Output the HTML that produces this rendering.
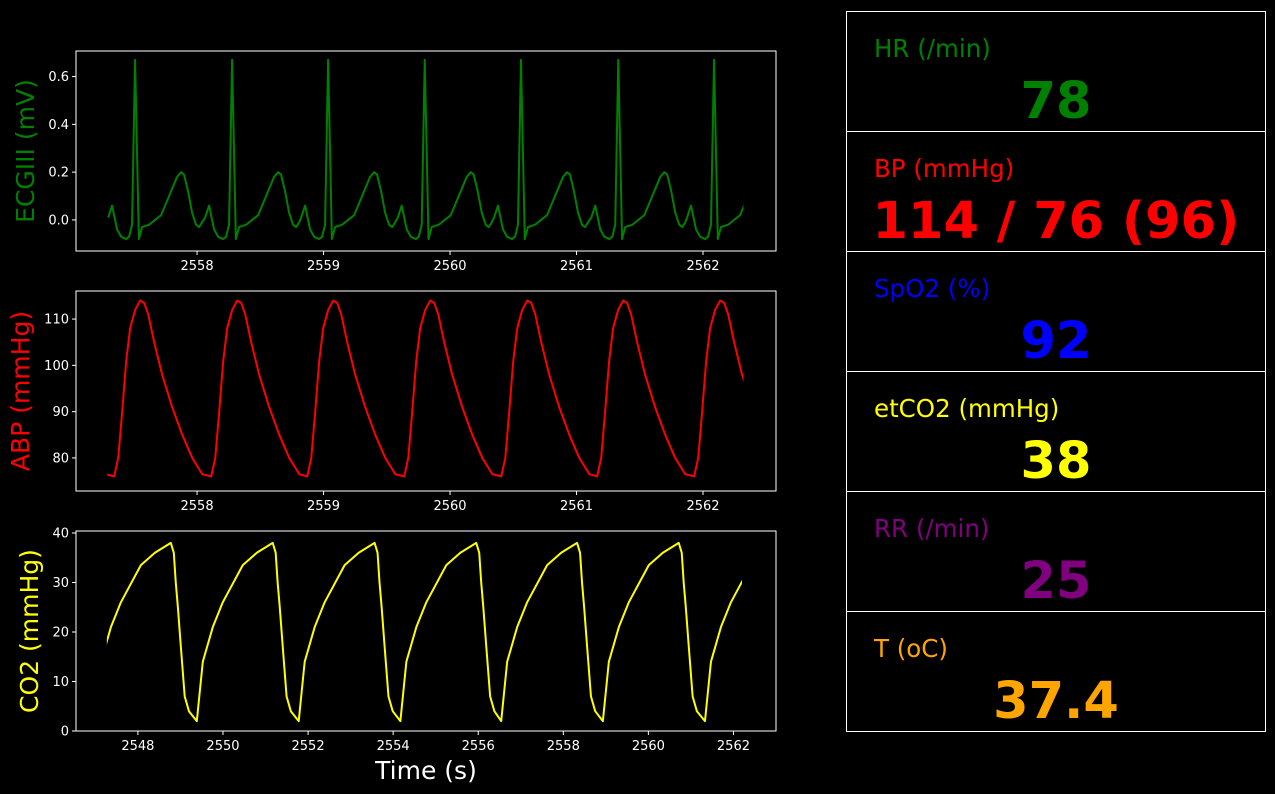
<!DOCTYPE html>
<html><head><meta charset="utf-8"><style>
html,body{margin:0;padding:0;background:#000;}
svg{display:block;font-family:"DejaVu Sans","Liberation Sans",sans-serif;}
</style></head><body>
<svg id="s" width="1275" height="794" viewBox="0 0 1275 794">
<rect width="1275" height="794" fill="#000"/>
<g id="panels"></g>
<g id="vitals"></g>
</svg>
<script>
// ECG data
const ecgBeatTimes = [2557.51, 2558.277, 2559.036, 2559.80, 2560.561, 2561.33, 2562.087];
const ecgTemplateOffsets = [-0.213, -0.182, -0.142, -0.111, -0.071, -0.047, -0.024, 0, 0.03, 0.055, 0.111, 0.158, 0.206, 0.269, 0.332, 0.364, 0.387, 0.419, 0.451, 0.482, 0.506, 0.53];
const ecgTemplateValues = [0.01, 0.06, -0.04, -0.07, -0.08, -0.07, -0.02, 0.67, -0.08, -0.03, -0.02, 0.0, 0.02, 0.10, 0.18, 0.20, 0.19, 0.12, 0.03, -0.02, -0.03, -0.01];
const ecgRange = [2557.29, 2562.32];
const ecgXTicks = [2558, 2559, 2560, 2561, 2562];
const ecgYTicks = [0.0, 0.2, 0.4, 0.6];
// ABP data
const abpFootTimes = [2556.58, 2557.345, 2558.112, 2558.871, 2559.638, 2560.405, 2561.163, 2561.93];
const abpTemplateOffsets = [0, 0.032, 0.063, 0.095, 0.126, 0.166, 0.206, 0.237, 0.269, 0.316, 0.379, 0.458, 0.538, 0.617, 0.696];
const abpTemplateValues = [76, 80, 90, 101, 108, 112, 114, 113.5, 111, 105, 98, 91, 85, 80, 76.5];
const abpRange = [2557.29, 2562.32];
const abpXTicks = [2558, 2559, 2560, 2561, 2562];
const abpYTicks = [80, 90, 100, 110];
// CO2 data
const co2MinTimes = [2546.99, 2549.385, 2551.78, 2554.17, 2556.54, 2558.93, 2561.33];
const co2TemplateOffsets = [0, 0.141, 0.376, 0.61, 1.08, 1.41, 1.784, 1.854, 1.90, 1.95, 2.02, 2.11, 2.21];
const co2TemplateValues = [2, 14, 21, 26, 33.5, 36, 38, 36, 30, 25, 17, 7, 4];
const co2Range = [2547.27, 2562.2];
const co2XTicks = [2548, 2550, 2552, 2554, 2556, 2558, 2560, 2562];
const co2YTicks = [0, 10, 20, 30, 40];
// Vitals
const vitalLabels = ["HR (/min)", "BP  (mmHg)", "SpO2 (%)", "etCO2 (mmHg)", "RR (/min)", "T (oC)"];
const vitalValues = ["78", "114 / 76 (96)", "92", "38", "25", "37.4"];
const vitalColors = ["#008000", "#ff0000", "#0000ff", "#ffff00", "#800080", "#ffa500"];

const NS = "http://www.w3.org/2000/svg";
function mk(tag, attrs, parent){const e=document.createElementNS(NS,tag);for(const k in attrs)e.setAttribute(k,attrs[k]);parent.appendChild(e);return e;}

function panel(cfg){
  const g = mk('g',{},document.getElementById('panels'));
  
  
  const L=76,R=776,T=cfg.top,B=cfg.top+200;
  const xs=t=>L+(t-cfg.xmin)/(cfg.xmax-cfg.xmin)*(R-L);
  const ys=v=>B-(v-cfg.ymin)/(cfg.ymax-cfg.ymin)*(B-T);
  const pts=[];
  cfg.starts.forEach(s=>{cfg.offs.forEach((o,i)=>{pts.push([s+o,cfg.vals[i]]);});});
  pts.sort((a,b)=>a[0]-b[0]);
  const cid='clip-'+cfg.name;
  const cp=mk('clipPath',{id:cid},g);
  mk('rect',{x:xs(cfg.range[0]),y:T-50,width:xs(cfg.range[1])-xs(cfg.range[0]),height:300},cp);
  const line=mk('polyline',{points:pts.map(p=>xs(p[0]).toFixed(2)+','+ys(p[1]).toFixed(2)).join(' '),fill:'none',stroke:cfg.color,'stroke-width':2,'stroke-linejoin':'round','clip-path':'url(#'+cid+')'},g);
  
  
  const fr=mk('rect',{x:L,y:T,width:R-L,height:200,fill:'none',stroke:'#fff','stroke-width':1},g);
  
  
  cfg.xt.forEach(t=>{
    const x=xs(t);
    mk('line',{x1:x,x2:x,y1:B,y2:B+4,stroke:'#fff'},g);
    const tx=mk('text',{x:x,y:B+19,fill:'#fff','font-size':13,'text-anchor':'middle'},g);
    tx.textContent=t;
    
    
  });
  cfg.yt.forEach(v=>{
    const y=ys(v);
    mk('line',{x1:L,x2:L-4,y1:y,y2:y,stroke:'#fff'},g);
    const tx=mk('text',{x:L-7,y:y+4.5,fill:'#fff','font-size':13,'text-anchor':'end'},g);
    tx.textContent=cfg.fmt(v);
    
    
  });
  const yl=mk('text',{x:0,y:0,fill:cfg.color,'font-size':25,'text-anchor':'middle',transform:'translate('+cfg.labelX+','+(T+100)+') rotate(-90)'},g);
  yl.textContent=cfg.label;
  
  
}
panel({name:'ecg',top:51,xmin:2557.043,xmax:2562.577,ymin:-0.13,ymax:0.707,starts:ecgBeatTimes,offs:ecgTemplateOffsets,vals:ecgTemplateValues,range:ecgRange,xt:ecgXTicks,yt:ecgYTicks,color:'#008000',label:'ECGIII (mV)',labelX:34,fmt:v=>v.toFixed(1)});
panel({name:'abp',top:291,xmin:2557.043,xmax:2562.577,ymin:72.86,ymax:116.06,starts:abpFootTimes,offs:abpTemplateOffsets,vals:abpTemplateValues,range:abpRange,xt:abpXTicks,yt:abpYTicks,color:'#ff0000',label:'ABP (mmHg)',labelX:29,fmt:v=>String(v)});
panel({name:'co2',top:531,xmin:2546.545,xmax:2563.0,ymin:0,ymax:40.4,starts:co2MinTimes,offs:co2TemplateOffsets,vals:co2TemplateValues,range:co2Range,xt:co2XTicks,yt:co2YTicks,color:'#ffff00',label:'CO2 (mmHg)',labelX:38,fmt:v=>String(v)});
const xl=mk('text',{x:426,y:779,fill:'#fff','font-size':25,'text-anchor':'middle'},document.getElementById('panels'));
xl.textContent='Time (s)';



const vg=document.getElementById('vitals');
vitalLabels.forEach((lab,i)=>{
  const T=11+i*120;
  const g=mk('g',{},vg);
  
  
  mk('rect',{x:846.5,y:T+0.5,width:419,height:120,fill:'none',stroke:'#fff','stroke-width':1},g);
  const l=mk('text',{x:874,y:T+46,fill:vitalColors[i],'font-size':24.5},g);
  l.textContent=lab;
  
  
  const v=mk('text',{x:1056,y:T+107,fill:vitalColors[i],'font-size':51,'font-weight':'bold','text-anchor':'middle'},g);
  v.textContent=vitalValues[i];
  
  
});
</script>
</body></html>
